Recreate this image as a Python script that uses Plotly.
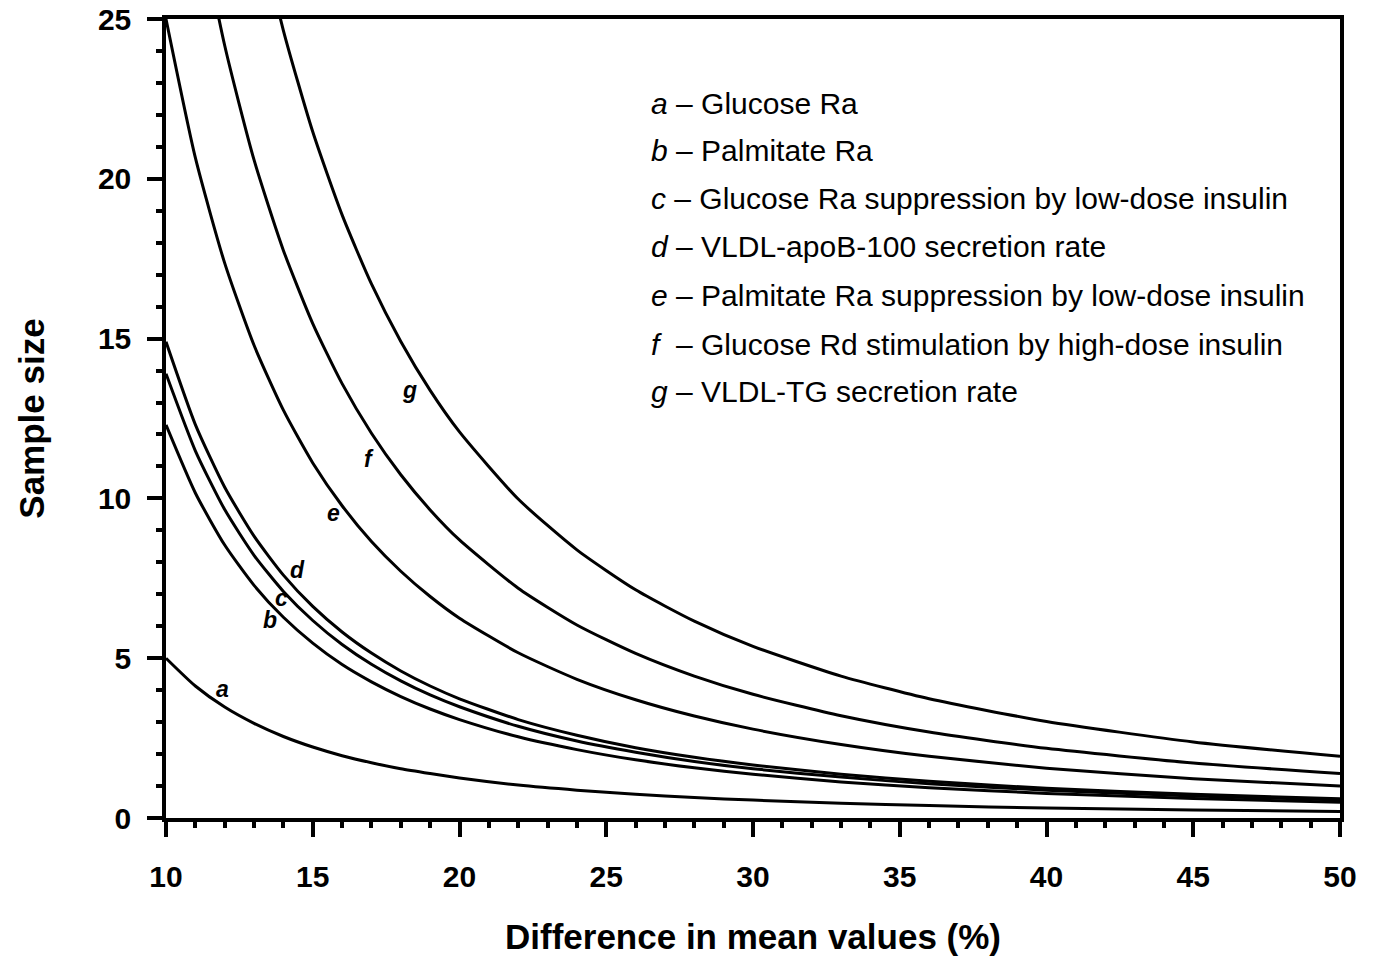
import plotly.graph_objects as go

# Difference in mean values (%)
diff_pct = [10, 11, 12, 13, 14, 15, 16, 17, 18, 19, 20, 22, 24, 26, 28, 30, 33, 36, 40, 45, 50]

# Sample size
size_a = [5.00, 4.13, 3.47, 2.96, 2.55, 2.22, 1.95, 1.73, 1.54, 1.39, 1.25, 1.03, 0.87, 0.74, 0.64, 0.56, 0.46, 0.39, 0.31, 0.25, 0.20]
size_b = [12.30, 10.17, 8.54, 7.28, 6.28, 5.47, 4.80, 4.26, 3.80, 3.41, 3.08, 2.54, 2.14, 1.82, 1.57, 1.37, 1.13, 0.95, 0.77, 0.61, 0.49]
size_c = [13.90, 11.49, 9.65, 8.22, 7.09, 6.18, 5.43, 4.81, 4.29, 3.85, 3.48, 2.87, 2.41, 2.06, 1.77, 1.54, 1.28, 1.07, 0.87, 0.69, 0.56]
size_d = [14.90, 12.31, 10.35, 8.82, 7.60, 6.62, 5.82, 5.16, 4.60, 4.13, 3.73, 3.08, 2.59, 2.20, 1.90, 1.66, 1.37, 1.15, 0.93, 0.74, 0.60]
size_e = [25.00, 20.66, 17.36, 14.79, 12.76, 11.11, 9.77, 8.65, 7.72, 6.93, 6.25, 5.17, 4.34, 3.70, 3.19, 2.78, 2.30, 1.93, 1.56, 1.23, 1.00]
size_f = [34.80, 28.76, 24.17, 20.59, 17.76, 15.47, 13.59, 12.04, 10.74, 9.64, 8.70, 7.19, 6.04, 5.15, 4.44, 3.87, 3.20, 2.69, 2.18, 1.72, 1.39]
size_g = [48.30, 39.92, 33.54, 28.58, 24.64, 21.47, 18.87, 16.71, 14.91, 13.38, 12.08, 9.98, 8.39, 7.14, 6.16, 5.37, 4.44, 3.73, 3.02, 2.38, 1.93]

series_letters = ["a", "b", "c", "d", "e", "f", "g"]
series_names = [
    "Glucose Ra",
    "Palmitate Ra",
    "Glucose Ra suppression by low-dose insulin",
    "VLDL-apoB-100 secretion rate",
    "Palmitate Ra suppression by low-dose insulin",
    "Glucose Rd stimulation by high-dose insulin",
    "VLDL-TG secretion rate",
]
series_values = [size_a, size_b, size_c, size_d, size_e, size_f, size_g]

# curve label positions (data coords)
label_x = [11.94, 13.54, 13.95, 14.49, 15.69, 16.92, 18.31]
label_y = [4.04, 6.18, 6.88, 7.75, 9.53, 11.22, 13.40]

FONT = "Liberation Sans, Arial, Helvetica, sans-serif"

fig = go.Figure()
for letter, name, vals in zip(series_letters, series_names, series_values):
    fig.add_trace(go.Scatter(
        x=diff_pct, y=vals, mode="lines", name=name,
        line=dict(color="black", width=3, shape="spline", smoothing=0.6),
        showlegend=False, cliponaxis=True,
    ))

annotations = []
for letter, lx, ly in zip(series_letters, label_x, label_y):
    annotations.append(dict(
        x=lx, y=ly, xref="x", yref="y", text=f"<b><i>{letter}</i></b>",
        showarrow=False, font=dict(family=FONT, size=23, color="black"),
        xanchor="center", yanchor="middle",
    ))

legend_y = [22.37, 20.87, 19.37, 17.87, 16.34, 14.83, 13.36]
for letter, name, ly in zip(series_letters, series_names, legend_y):
    sep = "\u00a0\u00a0– " if letter == "f" else " – "
    annotations.append(dict(
        x=26.45, y=ly, xref="x", yref="y",
        text=f"<i>{letter}</i>{sep}{name}",
        showarrow=False, font=dict(family=FONT, size=30, color="black"),
        xanchor="left", yanchor="middle",
    ))

fig.update_layout(
    width=1373, height=958,
    margin=dict(l=166, r=33, t=19, b=140, autoexpand=False),
    paper_bgcolor="white", plot_bgcolor="white",
    annotations=annotations,
    font=dict(family=FONT, color="black"),
)

fig.update_xaxes(
    range=[10, 50], tickvals=[10, 15, 20, 25, 30, 35, 40, 45, 50],
    showgrid=False, zeroline=False, automargin=False,
    showline=True, linecolor="black", linewidth=3.5, mirror=True,
    ticks="outside", ticklen=15, tickwidth=3.5, tickcolor="black",
    minor=dict(dtick=1, ticks="outside", ticklen=6, tickwidth=3.5, tickcolor="black", showgrid=False),
    tickfont=dict(family=FONT, size=30, color="black", weight="bold"),
    ticklabelstandoff=14,
    title=dict(text="<b>Difference in mean values (%)</b>", font=dict(family=FONT, size=35, color="black"), standoff=34),
)
fig.update_yaxes(
    range=[0, 25], tickvals=[0, 5, 10, 15, 20, 25],
    showgrid=False, zeroline=False, automargin=False,
    showline=True, linecolor="black", linewidth=3.5, mirror=True,
    ticks="outside", ticklen=15, tickwidth=3.5, tickcolor="black",
    minor=dict(dtick=1, ticks="outside", ticklen=6, tickwidth=3.5, tickcolor="black", showgrid=False),
    tickfont=dict(family=FONT, size=30, color="black", weight="bold"),
    ticklabelstandoff=10,
    title=dict(text="<b>Sample size</b>", font=dict(family=FONT, size=35, color="black"), standoff=44),
)

fig.write_html("out.html", config={"displayModeBar": False})

with open("out.html", "r", encoding="utf-8") as fh:
    html = fh.read()
html = html.replace("<body>", '<body style="margin:0;padding:0;overflow:hidden">', 1)
with open("out.html", "w", encoding="utf-8") as fh:
    fh.write(html)
